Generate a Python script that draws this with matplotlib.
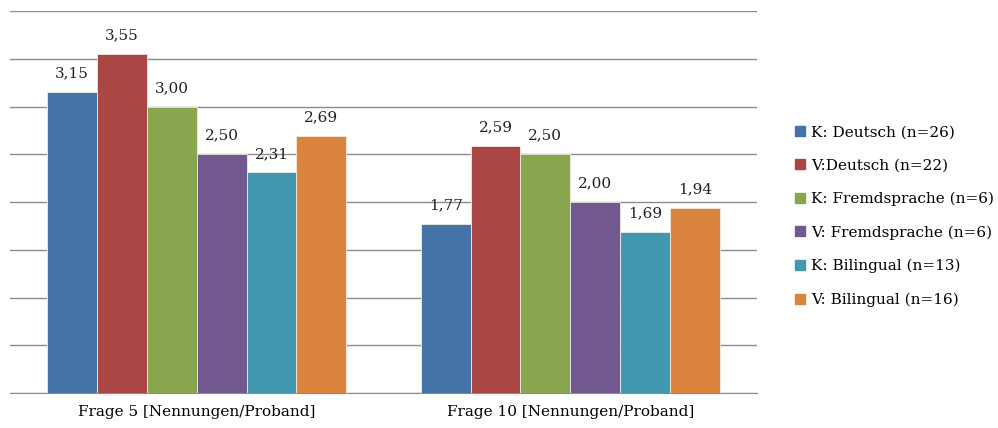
import numpy as np
import matplotlib.pyplot as plt

plt.rcParams['font.family'] = ['DejaVu Serif']

fragen = ['Frage 5 [Nennungen/Proband]', 'Frage 10 [Nennungen/Proband]']
gruppen = ['K: Deutsch (n=26)', 'V:Deutsch (n=22)', 'K: Fremdsprache (n=6)',
           'V: Fremdsprache (n=6)', 'K: Bilingual (n=13)', 'V: Bilingual (n=16)']
werte = [
    [3.15, 1.77],
    [3.55, 2.59],
    [3.00, 2.50],
    [2.50, 2.00],
    [2.31, 1.69],
    [2.69, 1.94],
]
farben = ['#4572A7', '#AA4643', '#89A54E', '#71588F', '#4198AF', '#DB843D']

fig = plt.figure(figsize=(9.98, 4.28), dpi=100)
ax = fig.add_axes([10 / 998, 35 / 428, 747 / 998, 382 / 428])

x = np.arange(len(fragen))
breite = 0.8 / len(gruppen)
for i, (name, w, c) in enumerate(zip(gruppen, werte, farben)):
    pos = x - 0.4 + breite * (i + 0.5)
    bars = ax.bar(pos, w, breite, color=c, edgecolor='#f0ece4', linewidth=0.6,
                  label=name, zorder=3)
    for b, v in zip(bars, w):
        ax.text(b.get_x() + b.get_width() / 2, v + 0.12, f'{v:.2f}'.replace('.', ','),
                ha='center', va='bottom', fontsize=11, color='#222222')

ax.set_xlim(-0.5, 1.5)
ax.set_ylim(0, 4)
ax.set_yticks(np.arange(0, 4.01, 0.5))
ax.yaxis.grid(True, color='#8c8c8c', linewidth=1.0, zorder=0)
ax.tick_params(axis='y', left=False, labelleft=False)
ax.tick_params(axis='x', bottom=False, labelsize=11, pad=5)
ax.set_xticks(x)
ax.set_xticklabels(fragen)
for s in ['top', 'right', 'left']:
    ax.spines[s].set_visible(False)
ax.spines['bottom'].set_color('#8c8c8c')

fig.legend(handles=[plt.Line2D([], [], marker='s', linestyle='', color=c, markersize=7.5)
                    for c in farben],
           labels=gruppen, loc='center left', bbox_to_anchor=(780 / 998, 0.495),
           frameon=False, fontsize=11, handletextpad=0.35, labelspacing=1.26,
           handlelength=0.8)

fig.savefig('out.png', dpi=100)
